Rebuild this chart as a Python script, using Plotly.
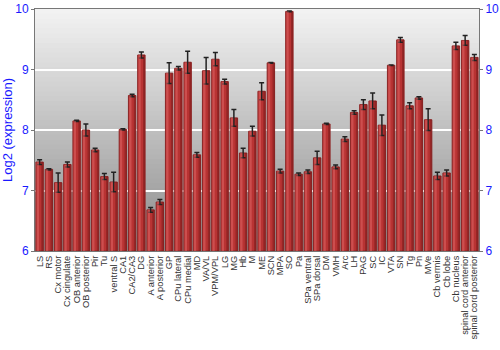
import plotly.graph_objects as go

regions = ["LS", "RS", "Cx motor", "Cx cingulate", "OB anterior", "OB posterior", "Pir", "Tu",
           "ventral S", "CA1", "CA2/CA3", "DG", "A anterior", "A posterior", "GP", "CPu lateral",
           "CPu medial", "MD", "VA/VL", "VPM/VPL", "LG", "MG", "Hb", "M", "ME", "SCN", "MPA", "SO",
           "Pa", "SPa ventral", "SPa dorsal", "DM", "VMH", "Arc", "LH", "PAG", "SC", "IC", "VTA",
           "SN", "Tg", "Pn", "MVe", "Cb vermis", "Cb lobe", "Cb nucleus", "spinal cord anterior",
           "spinal cord posterior"]
expression = [7.47, 7.35, 7.13, 7.43, 8.15, 8.00, 7.67, 7.23, 7.14, 8.01, 8.57, 9.24, 6.68, 6.81,
              8.94, 9.02, 9.12, 7.59, 8.98, 9.17, 8.80, 8.20, 7.62, 7.98, 8.64, 9.11, 7.32, 9.96,
              7.27, 7.31, 7.54, 8.10, 7.39, 7.85, 8.29, 8.42, 8.48, 8.08, 9.07, 9.49, 8.40, 8.53,
              8.17, 7.24, 7.29, 9.39, 9.48, 9.20]
errors = [0.04, 0.01, 0.16, 0.04, 0.01, 0.10, 0.03, 0.05, 0.16, 0.01, 0.02, 0.05, 0.04, 0.04,
          0.17, 0.03, 0.18, 0.04, 0.22, 0.11, 0.04, 0.14, 0.08, 0.08, 0.14, 0.005, 0.03, 0.005,
          0.02, 0.03, 0.11, 0.01, 0.03, 0.04, 0.03, 0.08, 0.13, 0.17, 0.005, 0.04, 0.05, 0.02,
          0.18, 0.06, 0.05, 0.06, 0.08, 0.05]
y_ticks = [6, 7, 8, 9, 10]

heights = [v - 6 for v in expression]

fig = go.Figure()
fig.add_trace(go.Bar(
    x=regions, y=heights, base=6,
    marker=dict(color="#b83333", line=dict(color="#8c2424", width=1)),
    error_y=dict(type="data", array=errors, color="#222222", thickness=1.5, width=2.5),
    width=0.8,
))
# highlight / shadow strips on each bar for a shaded look
fig.add_trace(go.Bar(
    x=regions, y=heights, base=6,
    marker=dict(color="rgba(230,110,110,0.45)", line=dict(width=0)),
    width=0.25, offset=-0.32, hoverinfo="skip",
))
fig.add_trace(go.Bar(
    x=regions, y=heights, base=6,
    marker=dict(color="rgba(90,15,15,0.35)", line=dict(width=0)),
    width=0.2, offset=0.18, hoverinfo="skip",
))
fig.add_trace(go.Scatter(x=[regions[0]], y=[6], yaxis="y2", mode="markers",
                         marker=dict(opacity=0), showlegend=False, hoverinfo="skip"))

# vertical gray gradient background (stacked rects, no gaps)
n = 50
top = (242, 242, 242)
bot = (140, 140, 140)
for i in range(n):
    t = i / (n - 1)
    c = tuple(int(round(top[k] + (bot[k] - top[k]) * t)) for k in range(3))
    fig.add_shape(type="rect", xref="paper", yref="paper",
                  x0=0, x1=1, y0=0, y1=1 - i / n,
                  fillcolor="rgb(%d,%d,%d)" % c, line=dict(width=0), layer="below")

fig.update_layout(
    width=500, height=350,
    margin=dict(l=35, r=21, t=9, b=99),
    paper_bgcolor="white", plot_bgcolor="rgba(0,0,0,0)",
    showlegend=False, barmode="overlay",
    font=dict(family="Liberation Sans, Arial, sans-serif"),
    xaxis=dict(tickangle=-90, tickmode="array", tickvals=regions, ticktext=regions,
               tickfont=dict(size=9.3, color="#333333"),
               showgrid=False, automargin=False,
               showline=True, linecolor="#777777", mirror=True, ticks="",
               range=[-0.5, len(regions) - 0.5]),
    yaxis=dict(range=[6, 10], tickvals=y_ticks, tickfont=dict(size=12, color="#1a1aff"),
               title=dict(text="Log2 (expression)", font=dict(size=13, color="#1a1aff"), standoff=6),
               showgrid=True, gridcolor="white", gridwidth=1.5, zeroline=False, automargin=False,
               showline=True, linecolor="#777777", ticks="outside", ticklen=3, tickcolor="#777777"),
    yaxis2=dict(range=[6, 10], tickvals=y_ticks, overlaying="y", side="right", automargin=False,
                tickfont=dict(size=12, color="#1a1aff"), showgrid=False, zeroline=False,
                showline=True, linecolor="#777777", ticks="outside", ticklen=3, tickcolor="#777777"),
)
fig.write_html("out.html")
